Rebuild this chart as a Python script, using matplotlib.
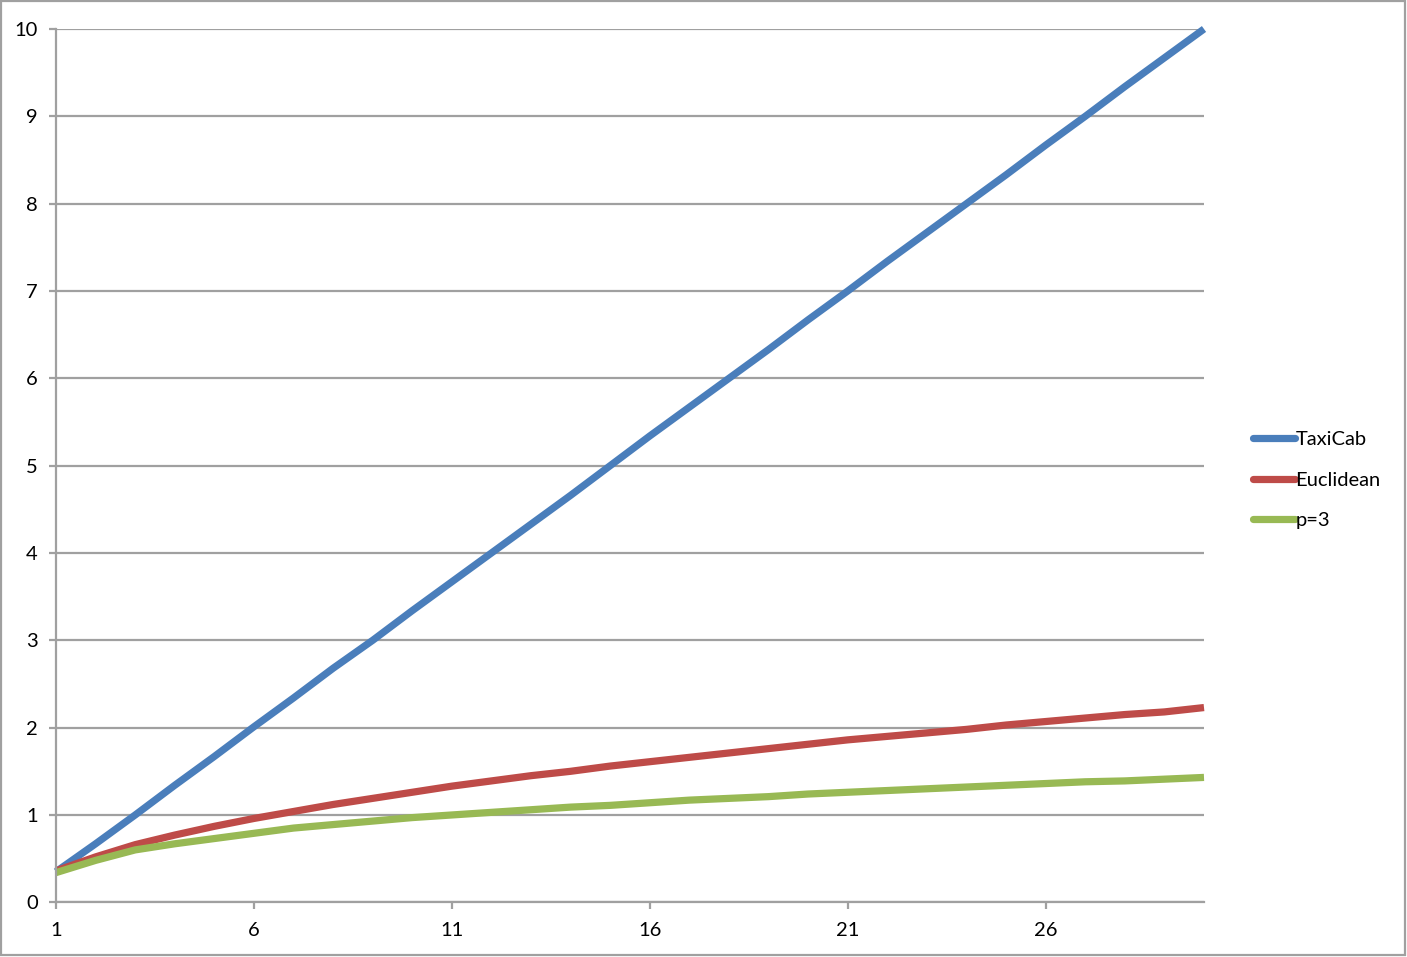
import matplotlib
matplotlib.use("Agg")
import matplotlib.pyplot as plt
from matplotlib.patches import Rectangle

# values (dimension 1..30)
dims = list(range(1, 31))
taxicab = [0.35, 0.67, 1.00, 1.34, 1.67, 2.01, 2.34, 2.68, 3.00, 3.34,
           3.67, 4.00, 4.33, 4.66, 5.00, 5.34, 5.67, 6.00, 6.33, 6.67,
           7.00, 7.34, 7.67, 8.00, 8.33, 8.67, 9.00, 9.34, 9.67, 10.00]
euclidean = [0.36, 0.52, 0.66, 0.77, 0.87, 0.96, 1.04, 1.12, 1.19, 1.26,
             1.33, 1.39, 1.45, 1.50, 1.56, 1.61, 1.66, 1.71, 1.76, 1.81,
             1.86, 1.90, 1.94, 1.98, 2.03, 2.07, 2.11, 2.15, 2.18, 2.23]
p3 = [0.34, 0.48, 0.60, 0.67, 0.73, 0.79, 0.85, 0.89, 0.93, 0.97,
      1.00, 1.03, 1.06, 1.09, 1.11, 1.14, 1.17, 1.19, 1.21, 1.24,
      1.26, 1.28, 1.30, 1.32, 1.34, 1.36, 1.38, 1.39, 1.41, 1.43]

series = [("TaxiCab", taxicab, "#4a7ebb"),
          ("Euclidean", euclidean, "#be4b48"),
          ("p=3", p3, "#98b954")]

xticks = [1, 6, 11, 16, 21, 26]

plt.rcParams["font.family"] = ["Lato", "DejaVu Sans"]
grid_col = "#a0a0a0"
fs = 14.5

W, H = 1407, 957
fig = plt.figure(figsize=(W / 100, H / 100), dpi=100)
ax = fig.add_axes([56 / W, 1 - 902.3 / H, (1204 - 56) / W, (902.3 - 29) / H])

for name, vals, col in series:
    ax.plot(dims, vals, color=col, lw=5.2, label=name, clip_on=False,
            solid_capstyle="butt", solid_joinstyle="round")

ax.set_xlim(1, 30)
ax.set_ylim(0, 10)
ax.set_xticks(xticks)
ax.set_yticks(range(0, 11))
ax.grid(axis="y", color=grid_col, lw=1.6)
ax.set_axisbelow(True)

for s in ["top", "right"]:
    ax.spines[s].set_visible(False)
for s in ["left", "bottom"]:
    ax.spines[s].set_color(grid_col)
    ax.spines[s].set_linewidth(1.6)

ax.tick_params(axis="y", length=5, width=1.6, color=grid_col, pad=8,
               labelsize=fs)
ax.tick_params(axis="x", length=5, width=1.6, color=grid_col, pad=9,
               labelsize=fs)

handles, labels = ax.get_legend_handles_labels()
leg = fig.legend(handles, labels, loc="center left",
                 bbox_to_anchor=(1253 / W, 1 - 480 / H),
                 frameon=False, fontsize=fs, handlelength=2.1,
                 handletextpad=0.0, labelspacing=1.15, borderpad=0,
                 borderaxespad=0)
for ln in leg.get_lines():
    ln.set_solid_capstyle("round")
    ln.set_linewidth(5.2)

# outer chart frame
fig.patches.append(Rectangle((1 / W, 2 / H), (W - 3) / W, (H - 3) / H,
                             transform=fig.transFigure, fill=False,
                             edgecolor=grid_col, lw=1.6))

fig.savefig("out.png", dpi=100)
